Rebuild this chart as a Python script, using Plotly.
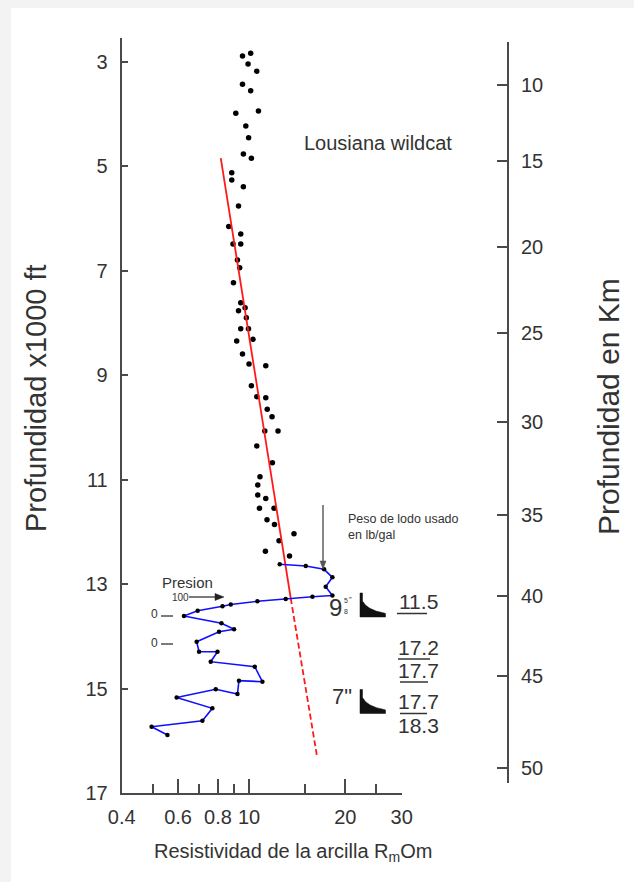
import math
import plotly.graph_objects as go

W, H = 634, 882

# ---------------- data ----------------
clay_res = [0.954, 1.012, 0.993, 1.057, 0.954, 1.012, 0.909, 1.070, 0.977, 0.997,
            0.960, 1.017, 0.883, 0.883, 0.960, 0.927, 0.864, 0.942, 0.891, 0.942,
            0.920, 0.935, 0.894, 0.942, 0.927, 0.972, 0.981, 0.942, 0.996, 0.915,
            1.029, 0.954, 1.000, 1.128, 1.017, 1.057, 1.128, 1.140, 1.180, 1.120,
            1.232, 1.057, 1.183, 1.082, 1.065, 1.065, 1.128, 1.078, 1.197, 1.138,
            1.201, 1.382, 1.241, 1.125, 1.338]
clay_depth = [2.885, 2.833, 3.038, 3.178, 3.427, 3.550, 3.982, 3.939, 4.226, 4.450,
              4.762, 4.844, 5.120, 5.260, 5.388, 5.758, 6.150, 6.294, 6.486, 6.486,
              6.792, 6.939, 7.227, 7.610, 7.763, 7.705, 7.897, 8.108, 8.108, 8.343,
              8.311, 8.592, 8.784, 8.816, 9.199, 9.410, 9.429, 9.651, 9.793, 10.067,
              10.067, 10.354, 10.674, 10.942, 11.101, 11.293, 11.360, 11.547, 11.547, 11.766,
              11.858, 12.034, 12.170, 12.371, 12.461]

pres_res = [1.247, 1.504, 1.716, 1.822, 1.736, 1.822, 1.578, 1.302, 1.062, 0.877,
            0.826, 0.691, 0.626, 0.820, 0.898, 0.806, 0.686, 0.698, 0.797, 0.759,
            1.042, 1.101, 0.930, 0.920, 0.787, 0.594, 0.768, 0.715, 0.496, 0.556]
pres_depth = [12.620, 12.652, 12.716, 12.869, 13.049, 13.217, 13.240, 13.284, 13.329, 13.390,
              13.424, 13.509, 13.610, 13.750, 13.865, 13.911, 14.102, 14.294, 14.294, 14.485,
              14.581, 14.868, 14.849, 15.104, 15.014, 15.171, 15.378, 15.615, 15.730, 15.889]

trend_solid_res = [0.816, 1.350]
trend_solid_depth = [4.84, 13.27]
trend_dash_res = [1.350, 1.628]
trend_dash_depth = [13.27, 16.27]

x_tick_vals = [0.4, 0.6, 0.8, 1.0, 2.0, 3.0]
x_tick_text = ["0.4", "0.6", "0.8", "10", "20", "30"]
x_minor_vals = [0.5, 0.7, 0.9, 1.5, 2.5]
depth_ticks = [3, 5, 7, 9, 11, 13, 15, 17]
km_labels = ["10", "15", "20", "25", "30", "35", "40", "45", "50"]
km_tick_depths = [3.44, 4.90, 6.54, 8.19, 9.89, 11.68, 13.23, 14.76, 16.52]
mud_weights = ["11.5", "17.2", "17.7", "17.7", "18.3"]

# ---------------- layout helpers ----------------
def px(x):
    return x / W

def py(y):
    return 1 - y / H

def P(x, y):
    return "{:.5f} {:.5f}".format(px(x), py(y))

FONT = "Liberation Sans, Arial, sans-serif"
TXT = "#333333"
AX = "#4a4a4a"

fig = go.Figure()

fig.add_trace(go.Scatter(x=clay_res, y=clay_depth, mode="markers",
                         marker=dict(color="black", size=5.5, symbol="circle"),
                         showlegend=False, hoverinfo="skip"))
fig.add_trace(go.Scatter(x=trend_solid_res, y=trend_solid_depth, mode="lines",
                         line=dict(color="#ff1a1a", width=1.8), showlegend=False))
fig.add_trace(go.Scatter(x=trend_dash_res, y=trend_dash_depth, mode="lines",
                         line=dict(color="#ff1a1a", width=1.8, dash="6px,3px"),
                         showlegend=False))
fig.add_trace(go.Scatter(x=pres_res, y=pres_depth, mode="lines+markers",
                         line=dict(color="#1010ff", width=1.6),
                         marker=dict(color="black", size=4.5),
                         showlegend=False))
# carrier for the right-hand axis
fig.add_trace(go.Scatter(x=[], y=[], xaxis="x", yaxis="y2", showlegend=False))

x0, x1 = 121.7, 401.7
ytop, ybot = 38, 793

fig.update_layout(
    width=W, height=H, autosize=False,
    margin=dict(l=0, r=0, t=0, b=0),
    template="none",
    paper_bgcolor="#f3f3f3",
    plot_bgcolor="rgba(0,0,0,0)",
    font=dict(family=FONT, color=TXT),
    xaxis=dict(
        domain=[px(x0), px(x1)], type="log",
        range=[math.log10(0.4), math.log10(3.0)],
        anchor="y", showgrid=False, zeroline=False,
        showline=True, linecolor=AX, linewidth=2,
        ticks="inside", ticklen=14, tickwidth=1.5, tickcolor=AX,
        tickvals=x_tick_vals, ticktext=x_tick_text,
        tickfont=dict(size=20, color=TXT, family=FONT),
        ticklabelstandoff=5,
        minor=dict(tickvals=x_minor_vals, ticks="inside", ticklen=9,
                   tickwidth=1.5, tickcolor=AX, showgrid=False),
        automargin=False,
    ),
    yaxis=dict(
        domain=[py(ybot), py(ytop)],
        range=[17, 17 - (ybot - ytop) / 52.214],
        anchor="x", showgrid=False, zeroline=False,
        showline=True, linecolor=AX, linewidth=2,
        ticks="inside", ticklen=6, tickwidth=1.5, tickcolor=AX,
        tickvals=depth_ticks,
        tickfont=dict(size=20, color=TXT, family=FONT),
        ticklabelstandoff=8,
        automargin=False,
    ),
    yaxis2=dict(
        domain=[py(783), py(42)],
        range=[17 - (ybot - 783) / 52.214, 17 - (ybot - 42) / 52.214],
        anchor="free", position=px(508), side="right",
        showgrid=False, zeroline=False,
        showline=True, linecolor=AX, linewidth=2,
        ticks="inside", ticklen=10, tickwidth=1.5, tickcolor=AX,
        tickvals=km_tick_depths, ticktext=km_labels,
        tickfont=dict(size=20, color=TXT, family=FONT),
        ticklabelstandoff=8,
        automargin=False,
    ),
)

shapes = []
# white page over the light grey border
shapes.append(dict(type="rect", xref="paper", yref="paper",
                   x0=px(11), x1=1, y0=0, y1=py(8),
                   fillcolor="white", line=dict(width=0), layer="below"))

# casing shoe symbols: thin post + filled wedge with slightly concave slope
def shoe_path(top):
    p = "M " + P(360, top) + " L " + P(362.5, top) + " L " + P(362.5, top + 8)
    p += " Q " + P(367, top + 17) + " " + P(384, top + 20)
    p += " L " + P(385.5, top + 20.5) + " L " + P(385.5, top + 24) + " L " + P(360, top + 24) + " Z"
    return p

for top in (593, 689.5):
    shapes.append(dict(type="path", xref="paper", yref="paper", path=shoe_path(top),
                       fillcolor="#111111", line=dict(color="#111111", width=0.5)))

# underlines under mud weights
for yy, xa, xb in [(613.5, 397, 427), (659, 398, 430), (682, 400, 428), (713.5, 400, 427)]:
    shapes.append(dict(type="line", xref="paper", yref="paper",
                       x0=px(xa), x1=px(xb), y0=py(yy), y1=py(yy),
                       line=dict(color="#333333", width=1.5)))

# short dashes next to "0"
for yy in (616, 644):
    shapes.append(dict(type="line", xref="paper", yref="paper",
                       x0=px(161), x1=px(173), y0=py(yy), y1=py(yy),
                       line=dict(color="#333333", width=1.3)))

# vertical pointer for the mud-weight note
shapes.append(dict(type="line", xref="paper", yref="paper",
                   x0=px(323), x1=px(323), y0=py(505), y1=py(566),
                   line=dict(color="#555555", width=1.4)))
shapes.append(dict(type="path", xref="paper", yref="paper",
                   path="M " + P(320, 561) + " L " + P(323, 569) + " L " + P(326, 561) + " Z",
                   fillcolor="#555555", line=dict(color="#555555", width=0.5)))
# horizontal "Presion 100" arrow
shapes.append(dict(type="line", xref="paper", yref="paper",
                   x0=px(189), x1=px(218), y0=py(597), y1=py(597),
                   line=dict(color="#222222", width=1.2)))
shapes.append(dict(type="path", xref="paper", yref="paper",
                   path="M " + P(215, 593.5) + " L " + P(224, 597) + " L " + P(215, 600.5) + " Z",
                   fillcolor="#222222", line=dict(color="#222222", width=0.5)))

fig.update_layout(shapes=shapes)

ann = []

def text(x, y, s, size, xanchor="center", yanchor="middle", angle=0, color=TXT, align="center"):
    ann.append(dict(x=px(x), y=py(y), xref="paper", yref="paper", text=s,
                    showarrow=False, xanchor=xanchor, yanchor=yanchor, align=align,
                    textangle=angle, font=dict(size=size, color=color, family=FONT)))

text(378, 143, "Lousiana wildcat", 20)
text(36, 398, "Profundidad x1000 ft", 29, angle=-90)
text(608, 407, "Profundidad en Km", 30, angle=-90)
text(293, 852, "Resistividad de la arcilla R<sub>m</sub>Om", 20)
text(346, 527, "Peso de lodo usado<br>en lb/gal", 12.5, xanchor="left", align="left")
text(187, 582, "Presion", 15)
text(180, 597, "100", 10)
text(154, 614, "0", 12)
text(154, 643, "0", 12)
text(335, 607, "9", 24)
text(346, 600, "5", 7)
text(346, 611, "8", 7)
text(350.5, 599, "\u201d", 8)
text(341.5, 696, "7\"", 22)
for lab, yy in zip(mud_weights, [601, 647.5, 670, 701.5, 725]):
    text(418, yy, lab, 21)

fig.update_layout(annotations=ann)

fig.write_html("out.html")
